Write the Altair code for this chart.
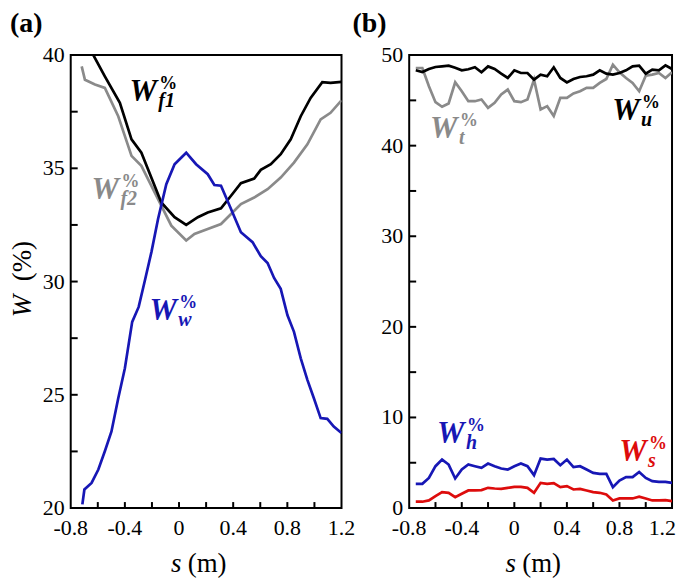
import altair as alt
import pandas as pd

FONT = "Liberation Serif"

# ---------------- panel (a) data ----------------
f1_s = [-0.70, -0.633, -0.548, -0.437, -0.351, -0.278, -0.131, -0.033, 0.053, 0.139, 0.212,
        0.310, 0.384, 0.457, 0.555, 0.604, 0.678, 0.751, 0.825, 0.899, 0.972, 1.058, 1.119, 1.20]
f1_w = [40.7, 40.0, 39.06, 37.89, 36.28, 35.69, 33.49, 32.84, 32.50, 32.84, 33.05,
        33.23, 33.79, 34.34, 34.55, 34.93, 35.18, 35.62, 36.28, 37.30, 38.11, 38.80, 38.77, 38.82]

f2_s = [-0.719, -0.695, -0.621, -0.548, -0.449, -0.351, -0.278, -0.155, -0.057, 0.053, 0.114,
        0.212, 0.310, 0.384, 0.457, 0.555, 0.654, 0.751, 0.849, 0.948, 1.046, 1.119, 1.20]
f2_w = [39.50, 38.91, 38.70, 38.55, 37.30, 35.55, 35.11, 33.64, 32.47, 31.81, 32.10,
        32.32, 32.54, 32.98, 33.42, 33.71, 34.08, 34.59, 35.25, 36.06, 37.16, 37.45, 38.00]

ww_s = [-0.714, -0.699, -0.646, -0.596, -0.548, -0.499, -0.449, -0.400, -0.346, -0.298, -0.254,
        -0.204, -0.155, -0.094, -0.033, 0.053, 0.126, 0.212, 0.261, 0.310, 0.384, 0.457, 0.543,
        0.604, 0.654, 0.702, 0.751, 0.801, 0.849, 0.899, 0.948, 0.996, 1.046, 1.095, 1.143, 1.20]
ww_w = [20.16, 20.82, 21.11, 21.70, 22.51, 23.38, 24.85, 26.17, 28.22, 28.88, 30.00,
        31.30, 32.76, 34.30, 35.18, 35.69, 35.18, 34.74, 34.26, 34.23, 33.20, 32.18, 31.74,
        31.12, 30.82, 30.16, 29.68, 28.51, 27.78, 26.61, 25.66, 24.85, 23.97, 23.94, 23.60, 23.31]

# ---------------- panel (b) data ----------------
b_s = [-0.75, -0.70, -0.65, -0.60, -0.55, -0.50, -0.45, -0.40, -0.35, -0.30,
       -0.25, -0.20, -0.15, -0.10, -0.05, 0.00, 0.05, 0.10, 0.15, 0.20,
       0.25, 0.30, 0.35, 0.40, 0.45, 0.50, 0.55, 0.60, 0.65, 0.70,
       0.75, 0.80, 0.85, 0.90, 0.95, 1.00, 1.05, 1.10, 1.15, 1.20]
wu = [48.32, 48.13, 48.46, 48.68, 48.75, 48.83, 48.61, 48.32, 48.43, 48.65,
      48.10, 48.75, 48.46, 47.95, 47.47, 48.32, 48.02, 48.02, 47.29, 47.84,
      47.66, 48.65, 47.47, 46.99, 47.36, 47.58, 47.66, 47.84, 48.32, 47.95,
      47.84, 48.02, 48.32, 48.75, 48.83, 47.95, 48.39, 48.32, 48.86, 48.46]
wt = [48.57, 48.57, 46.56, 44.80, 44.29, 44.66, 47.00, 46.01, 44.91, 44.91,
      45.10, 44.18, 44.73, 45.65, 46.19, 44.91, 44.80, 45.10, 47.29, 44.00,
      44.36, 43.27, 45.28, 45.28, 45.76, 46.01, 46.38, 46.38, 46.92, 47.36,
      48.94, 48.10, 47.47, 46.92, 46.01, 47.73, 47.84, 48.02, 47.47, 48.10]
wh = [2.67, 2.67, 3.33, 4.62, 5.35, 4.80, 3.26, 4.25, 4.80, 4.62,
      4.43, 4.91, 4.62, 4.36, 4.25, 4.62, 4.91, 4.62, 3.63, 5.46,
      5.35, 5.42, 4.73, 5.35, 4.51, 4.62, 4.25, 3.88, 3.77, 3.77,
      2.30, 3.04, 3.41, 3.41, 3.99, 3.33, 2.97, 2.89, 2.89, 2.78]
ws = [0.70, 0.70, 0.84, 1.32, 1.76, 1.68, 1.21, 1.58, 1.94, 1.94,
      1.98, 2.23, 2.16, 2.12, 2.23, 2.34, 2.34, 2.23, 1.68, 2.78,
      2.67, 2.75, 2.31, 2.42, 2.05, 2.12, 1.94, 1.76, 1.68, 1.50,
      0.84, 1.06, 1.06, 1.06, 1.25, 1.06, 0.84, 0.84, 0.88, 0.77]

# ---------------- ticks and tick labels ----------------
x_label_vals = [-0.8, -0.4, 0, 0.4, 0.8, 1.2]
x_label_txt = ["-0.8", "-0.4", "0", "0.4", "0.8", "1.2"]
x_tick_vals = [-0.6, -0.4, -0.2, 0, 0.2, 0.4, 0.6, 0.8, 1.0]
ya_label_vals = [20, 25, 30, 35, 40]
ya_label_txt = ["20", "25", "30", "35", "40"]
ya_tick_vals = [22.5, 25, 27.5, 30, 32.5, 35, 37.5]
yb_label_vals = [0, 10, 20, 30, 40, 50]
yb_label_txt = ["0", "10", "20", "30", "40", "50"]
yb_tick_vals = [5, 10, 15, 20, 25, 30, 35, 40, 45]

# ---------------- curve labels ----------------
lab_a = pd.DataFrame({
    "s": [-0.366, -0.646, -0.219],
    "w": [37.98, 33.63, 28.31],
    "sup": ["%", "%", "%"],
    "sub": ["f1", "f2", "w"],
    "c": ["f1", "f2", "w"],
})
lab_b = pd.DataFrame({
    "s": [-0.641, 0.745, -0.588, 0.798],
    "w": [40.88, 42.86, 7.14, 5.16],
    "sup": ["%", "%", "%", "%"],
    "sub": ["t", "u", "h", "s"],
    "c": ["t", "u", "h", "s"],
})

col_dom = ["f1", "f2", "w", "t", "u", "h", "s"]
col_rng = ["#000000", "#8a8a8a", "#1717b5", "#8a8a8a", "#000000", "#1717b5", "#dd0c0c"]
cscale = alt.Scale(domain=col_dom, range=col_rng)

W_L, W_R, H = 272, 264, 455

xs = alt.Scale(domain=[-0.8, 1.2], nice=False, zero=False)


def series_df(pairs):
    rows = []
    for name, s, w in pairs:
        for i, (a, b) in enumerate(zip(s, w)):
            rows.append({"s": a, "w": b, "c": name, "o": i})
    return pd.DataFrame(rows)


def panel(df, order, labels, ys, ylv, ylt, yt, width, tag, tag_x):
    lines = alt.Chart(df).mark_line(strokeWidth=2.7, clip=True).encode(
        x=alt.X("s:Q", scale=xs, axis=None),
        y=alt.Y("w:Q", scale=ys, axis=None),
        color=alt.Color("c:N", scale=cscale, legend=None),
        detail="c:N",
        order="o:Q",
    )
    layers = [lines.transform_filter(alt.datum.c == name) for name in order]

    xt = alt.Chart(pd.DataFrame({"t": x_tick_vals})).mark_rule(color="black", strokeWidth=2).encode(
        x=alt.X("t:Q", scale=xs, axis=None), y=alt.value(H - 6), y2=alt.value(H))
    ytk = alt.Chart(pd.DataFrame({"t": yt})).mark_rule(color="black", strokeWidth=2).encode(
        y=alt.Y("t:Q", scale=ys, axis=None), x=alt.value(0), x2=alt.value(7))

    # x tick labels (last one right-aligned so it stays inside the page)
    xl = pd.DataFrame({"t": x_label_vals, "lab": x_label_txt})
    xlab = alt.Chart(xl.iloc[:-1]).mark_text(font=FONT, fontSize=22, baseline="top",
                                             align="center", color="black").encode(
        x=alt.X("t:Q", scale=xs, axis=None), y=alt.value(H + 10), text="lab:N")
    xlab_last = alt.Chart(xl.iloc[-1:]).mark_text(font=FONT, fontSize=22, baseline="top",
                                                  align="center" if tag == "(a)" else "right",
                                                  dx=0 if tag == "(a)" else 4,
                                                  color="black").encode(
        x=alt.X("t:Q", scale=xs, axis=None), y=alt.value(H + 10), text="lab:N")
    ylab = alt.Chart(pd.DataFrame({"t": ylv, "lab": ylt})).mark_text(
        font=FONT, fontSize=22, baseline="middle", align="right", color="black").encode(
        y=alt.Y("t:Q", scale=ys, axis=None), x=alt.value(-6), text="lab:N")

    base = alt.Chart(labels).encode(
        x=alt.X("s:Q", scale=xs, axis=None),
        y=alt.Y("w:Q", scale=ys, axis=None),
        color=alt.Color("c:N", scale=cscale, legend=None),
    )
    wtxt = base.mark_text(font=FONT, fontSize=31, fontWeight="bold", fontStyle="italic",
                          align="left", baseline="alphabetic").encode(text=alt.value("W"))
    sup = base.mark_text(font=FONT, fontSize=18, fontWeight="bold",
                         align="left", baseline="alphabetic", dx=30, dy=-12).encode(text="sup:N")
    sub = base.mark_text(font=FONT, fontSize=20, fontWeight="bold", fontStyle="italic",
                         align="left", baseline="alphabetic", dx=29, dy=6).encode(text="sub:N")

    one = pd.DataFrame({"k": [0]})
    tag_t = alt.Chart(one).mark_text(font=FONT, fontSize=28, fontWeight="bold", align="left",
                                     baseline="top", color="black").encode(
        text=alt.value(tag), x=alt.value(tag_x), y=alt.value(-45))
    cx = width / 2
    s_t = alt.Chart(one).mark_text(font=FONT, fontSize=27, fontStyle="italic", align="center",
                                   baseline="alphabetic", color="black").encode(
        text=alt.value("s"), x=alt.value(cx - 30), y=alt.value(H + 64))
    m_t = alt.Chart(one).mark_text(font=FONT, fontSize=27, align="center",
                                   baseline="alphabetic", color="black").encode(
        text=alt.value("(m)"), x=alt.value(cx + 1), y=alt.value(H + 64))

    return alt.layer(*layers, xt, ytk, xlab, xlab_last, ylab, wtxt, sup, sub,
                     tag_t, s_t, m_t).properties(width=width, height=H)


df_a = series_df([("f2", f2_s, f2_w), ("f1", f1_s, f1_w), ("w", ww_s, ww_w)])
df_b = series_df([("t", b_s, wt), ("u", b_s, wu), ("h", b_s, wh), ("s", b_s, ws)])

ys_a = alt.Scale(domain=[20, 40], nice=False, zero=False)
ys_b = alt.Scale(domain=[0, 50], nice=False, zero=False)

pa = panel(df_a, ["f2", "f1", "w"], lab_a, ys_a, ya_label_vals, ya_label_txt, ya_tick_vals,
           W_L, "(a)", -61)
one = pd.DataFrame({"k": [0]})
ytitle_w = alt.Chart(one).mark_text(font=FONT, fontSize=27, fontStyle="italic", angle=270,
                                    align="center", baseline="middle", color="black").encode(
    text=alt.value("W"), x=alt.value(-48), y=alt.value(252))
ytitle_p = alt.Chart(one).mark_text(font=FONT, fontSize=27, angle=270,
                                    align="center", baseline="middle", color="black").encode(
    text=alt.value("(%)"), x=alt.value(-48), y=alt.value(207))
pa = alt.layer(pa, ytitle_w, ytitle_p)

pb = panel(df_b, ["t", "u", "h", "s"], lab_b, ys_b, yb_label_vals, yb_label_txt, yb_tick_vals,
           W_R, "(b)", -57)

chart = alt.hconcat(pa, pb, spacing=68, bounds="flush").properties(padding=0).configure_view(
    stroke="black", strokeWidth=2).resolve_scale(color="shared")

chart.save("out.html", embed_options={"renderer": "svg", "actions": False})
